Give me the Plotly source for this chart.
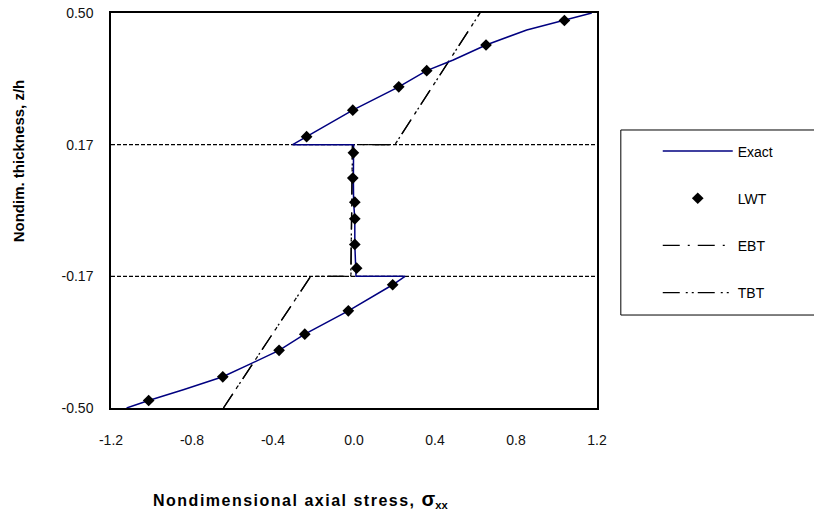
import plotly.graph_objects as go

# ---- data ----
H = 1.0 / 6.0
exact_x = [-1.123, -1.014, -0.843, -0.648, -0.514, -0.370, -0.243, -0.028, 0.191, 0.252,
           0.010, 0.004, 0.004, -0.002, -0.003, -0.002,
           -0.303, -0.234, -0.006, 0.221, 0.359, 0.490, 0.652, 0.853, 1.039, 1.174]
exact_z = [-0.5, -0.481, -0.454, -0.421, -0.389, -0.354, -0.313, -0.254, -0.188, -H,
           -H, -0.085, -0.021, 0.021, 0.082, H,
           H, 0.187, 0.254, 0.313, 0.354, 0.381, 0.419, 0.457, 0.481, 0.5]

lwt_x = [-1.014, -0.648, -0.370, -0.243, -0.028, 0.191,
         0.013, 0.004, 0.004, 0.004, -0.006, -0.003,
         -0.234, -0.006, 0.221, 0.359, 0.652, 1.039]
lwt_z = [-0.481, -0.421, -0.354, -0.313, -0.254, -0.188,
         -0.146, -0.086, -0.021, 0.021, 0.082, 0.146,
         0.187, 0.254, 0.313, 0.354, 0.419, 0.481]

ebt_x = [-0.645, -0.214, -0.015, -0.008, 0.202, 0.622]
ebt_z = [-0.5, -H, -H, H, H, 0.5]

tbt_x = [-0.645, -0.214, -0.016, -0.007, 0.202, 0.622]
tbt_z = [-0.5, -H, -H, H, H, 0.5]

interfaces = [-H, H]

x_ticks = [-1.2, -0.8, -0.4, 0.0, 0.4, 0.8, 1.2]
x_ticktext = ["-1.2", "-0.8", "-0.4", "0.0", "0.4", "0.8", "1.2"]
y_ticks = [-0.5, -H, H, 0.5]
y_ticktext = ["-0.50", "-0.17", "0.17", "0.50"]

FONT = "Liberation Sans, Arial, sans-serif"

fig = go.Figure()
fig.add_trace(go.Scatter(x=ebt_x, y=ebt_z, mode="lines", name="EBT", legendrank=3,
                         line=dict(color="black", width=1.3, dash="17px,8px,2px,8px"), legendgroup="c"))
fig.add_trace(go.Scatter(x=tbt_x, y=tbt_z, mode="lines", name="TBT", legendrank=4,
                         line=dict(color="black", width=1.3, dash="17px,6px,2px,4px,2px,4px"), legendgroup="d"))
fig.add_trace(go.Scatter(x=exact_x, y=exact_z, mode="lines", name="Exact", legendrank=1,
                         line=dict(color="#000080", width=1.5), legendgroup="a"))
fig.add_trace(go.Scatter(x=lwt_x, y=lwt_z, mode="markers", name="LWT", legendrank=2,
                         marker=dict(symbol="diamond", size=9, color="black"), legendgroup="b"))

for zi in interfaces:
    fig.add_shape(type="line", xref="paper", x0=0, x1=1, yref="y", y0=zi, y1=zi,
                  line=dict(color="black", width=1.2, dash="4px,2px"), layer="below")

# legend frame
fig.add_shape(type="rect", xref="paper", yref="paper", x0=1.049, x1=1.48, y0=0.2354, y1=0.7038,
              line=dict(color="black", width=1), fillcolor="rgba(0,0,0,0)")

fig.update_layout(
    width=814, height=516,
    margin=dict(l=111, r=217, t=13, b=108, autoexpand=False),
    plot_bgcolor="white", paper_bgcolor="white",
    font=dict(family=FONT, size=14, color="black"),
    showlegend=True,
    legend=dict(x=1.125, y=0.69, xanchor="left", yanchor="top",
                bgcolor="rgba(0,0,0,0)", borderwidth=0,
                itemwidth=70, tracegroupgap=26,
                font=dict(family=FONT, size=14, color="black")),
    xaxis=dict(range=[-1.2, 1.2], tickvals=x_ticks, ticktext=x_ticktext,
               showgrid=False, zeroline=False, showline=True, mirror=True,
               linecolor="black", linewidth=1.5, ticks="", ticklabelstandoff=18,
               ticklabeloverflow="allow", automargin=False,
               tickfont=dict(family=FONT, size=14, color="#111111")),
    yaxis=dict(range=[-0.5, 0.5], tickvals=y_ticks, ticktext=y_ticktext,
               showgrid=False, zeroline=False, showline=True, mirror=True,
               linecolor="black", linewidth=1.5, ticks="", ticklabelstandoff=13,
               ticklabeloverflow="allow", automargin=False,
               tickfont=dict(family=FONT, size=14, color="#111111")),
    annotations=[
        dict(text="<b>Nondim. thickness, z/h</b>", xref="paper", yref="paper",
             x=-0.191, y=0.625, xanchor="center", yanchor="middle", textangle=-90,
             showarrow=False, font=dict(family=FONT, size=15, color="black")),
        dict(text="<b><span style='letter-spacing:1.5px'>Nondimensional axial stress, </span>"
                  "<span style='font-size:20px'>σ</span><sub>xx</sub></b>",
             xref="paper", yref="paper", x=0.389, y=-0.2304, xanchor="center", yanchor="middle",
             showarrow=False, font=dict(family=FONT, size=16, color="black")),
    ],
)

fig.write_html("out.html", config={"displayModeBar": False},
               post_script="document.body.style.margin='0px';")
